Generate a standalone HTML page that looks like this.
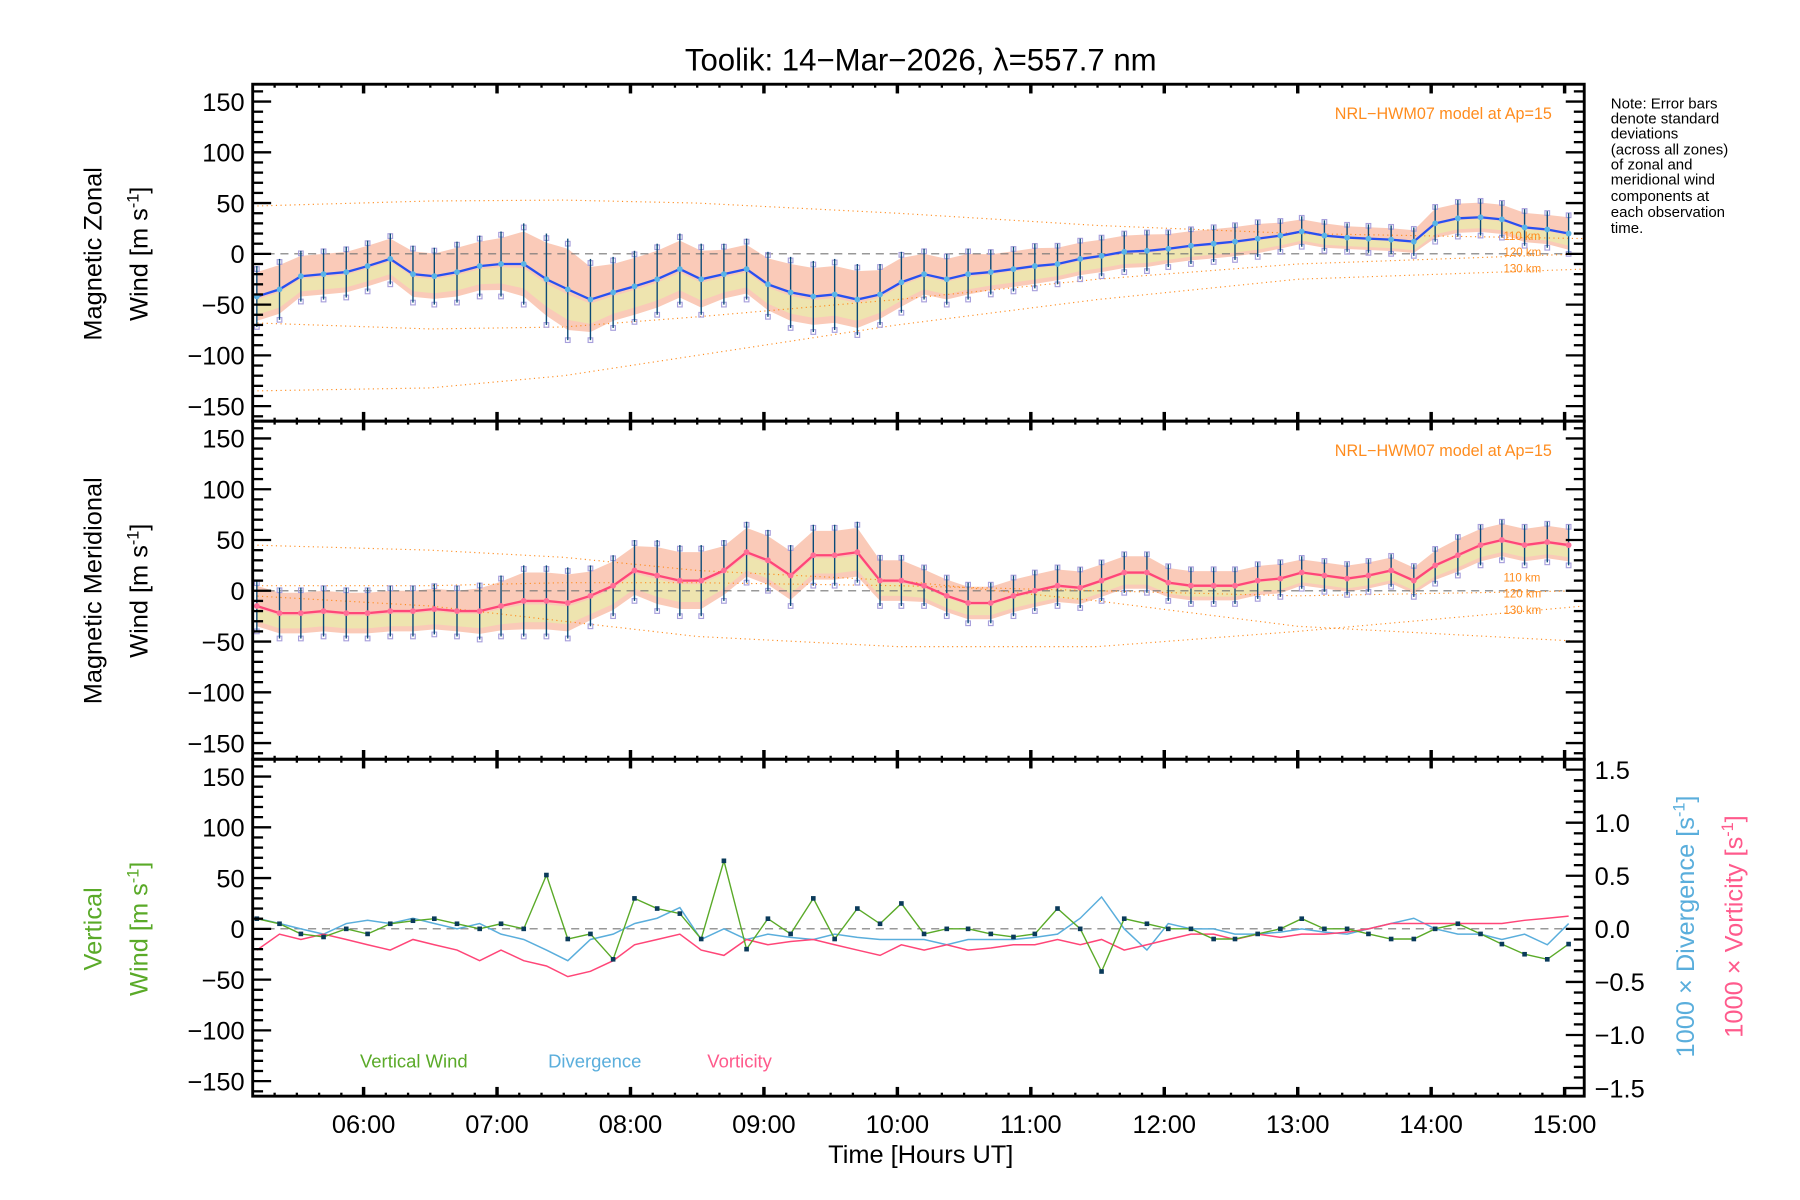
<!DOCTYPE html>
<html><head><meta charset="utf-8"><style>
html,body{margin:0;padding:0;background:#fff;}
svg{display:block;font-family:"Liberation Sans","DejaVu Sans",sans-serif;}
</style></head><body>
<svg id="chart" xmlns="http://www.w3.org/2000/svg" width="1800" height="1200" viewBox="0 0 1560 1040">
<rect width="1560" height="1040" fill="#fff"/>
<text x="798" y="61" font-size="27" text-anchor="middle">Toolik: 14−Mar−2026, λ=557.7 nm</text>
<g id="layer"></g>
<g font-size="13" fill="#000">
<text x="1396" y="94">Note: Error bars</text>
<text x="1396" y="107">denote standard</text>
<text x="1396" y="120">deviations</text>
<text x="1396" y="134">(across all zones)</text>
<text x="1396" y="147">of zonal and</text>
<text x="1396" y="160">meridional wind</text>
<text x="1396" y="174">components at</text>
<text x="1396" y="188">each observation</text>
<text x="1396" y="202">time.</text>
</g>
<text x="798" y="1008" font-size="22" text-anchor="middle">Time [Hours UT]</text>
<g font-size="22" text-anchor="middle">
<text transform="translate(88,220) rotate(-90)">Magnetic Zonal</text>
<text transform="translate(128,220) rotate(-90)">Wind [m s<tspan dy="-8" font-size="14">-1</tspan><tspan dy="8">]</tspan></text>
</g>
<g font-size="22" text-anchor="middle">
<text transform="translate(88,512) rotate(-90)">Magnetic Meridional</text>
<text transform="translate(128,512) rotate(-90)">Wind [m s<tspan dy="-8" font-size="14">-1</tspan><tspan dy="8">]</tspan></text>
</g>
<g font-size="22" text-anchor="middle" fill="#5aaa28">
<text transform="translate(88,805) rotate(-90)">Vertical</text>
<text transform="translate(128,805) rotate(-90)">Wind [m s<tspan dy="-8" font-size="14">-1</tspan><tspan dy="8">]</tspan></text>
</g>
<text transform="translate(1468,803) rotate(-90)" font-size="22" text-anchor="middle" fill="#5aaedc">1000 × Divergence [s<tspan dy="-8" font-size="14">-1</tspan><tspan dy="8">]</tspan></text>
<text transform="translate(1510,803) rotate(-90)" font-size="22" text-anchor="middle" fill="#ff5a8c">1000 × Vorticity [s<tspan dy="-8" font-size="14">-1</tspan><tspan dy="8">]</tspan></text>
<text x="312" y="925" font-size="16" fill="#5aaa28">Vertical Wind</text>
<text x="475" y="925" font-size="16" fill="#5aaedc">Divergence</text>
<text x="613" y="925" font-size="16" fill="#ff5a8c">Vorticity</text>
<text x="1345" y="103" font-size="14" fill="#ff8c1e" text-anchor="end">NRL−HWM07 model at Ap=15</text>
<text x="1345" y="395" font-size="14" fill="#ff8c1e" text-anchor="end">NRL−HWM07 model at Ap=15</text>
</svg>
<script>
const times=[5.2,5.37,5.53,5.7,5.87,6.03,6.2,6.37,6.53,6.7,6.87,7.03,7.2,7.37,7.53,7.7,7.87,8.03,8.2,8.37,8.53,8.7,8.87,9.03,9.2,9.37,9.53,9.7,9.87,10.03,10.2,10.37,10.53,10.7,10.87,11.03,11.2,11.37,11.53,11.7,11.87,12.03,12.2,12.37,12.53,12.7,12.87,13.03,13.2,13.37,13.53,13.7,13.87,14.03,14.2,14.37,14.53,14.7,14.87,15.03];
const zonal=[-42,-35,-22,-20,-18,-12,-5,-20,-22,-18,-12,-10,-10,-25,-35,-45,-38,-32,-25,-15,-25,-20,-15,-30,-38,-42,-40,-45,-40,-28,-20,-25,-20,-18,-15,-12,-10,-5,-2,2,3,5,8,10,12,15,18,22,18,16,15,14,12,30,35,36,34,26,24,20];
const zonalSigma=[30,30,25,25,25,25,25,28,28,30,30,32,40,45,50,40,35,35,35,35,35,30,30,32,35,35,35,35,30,30,25,25,25,22,22,22,20,20,20,20,20,18,18,18,18,18,16,15,15,14,14,14,14,18,18,18,18,18,18,20];
const meridional=[-15,-22,-22,-20,-22,-22,-20,-20,-18,-20,-20,-15,-10,-10,-12,-5,5,20,15,10,10,20,38,30,15,35,35,38,10,10,5,-5,-12,-12,-5,0,5,3,10,18,18,8,5,5,5,10,12,18,15,12,15,20,10,25,35,45,50,45,48,45];
const meridSigma=[25,25,25,25,25,25,25,25,25,25,28,30,35,35,35,30,30,30,35,35,35,30,30,30,30,30,30,30,25,25,20,20,20,20,20,20,20,20,20,20,20,18,18,18,18,18,18,16,16,16,16,16,16,18,20,20,20,20,20,20];
const vertical=[10,5,-5,-8,0,-5,5,8,10,5,0,5,0,53,-10,-5,-30,30,20,15,-10,67,-20,10,-5,30,-10,20,5,25,-5,0,0,-5,-8,-5,20,0,-42,10,5,0,0,-10,-10,-5,0,10,0,0,-5,-10,-10,0,5,-5,-15,-25,-30,-15];
const divergence=[0.10,0.05,0,-0.05,0.05,0.08,0.05,0.10,0.05,0,0.05,-0.05,-0.10,-0.20,-0.30,-0.10,-0.05,0.05,0.10,0.20,-0.10,0,-0.10,-0.05,-0.08,-0.10,-0.05,-0.08,-0.10,-0.10,-0.10,-0.15,-0.10,-0.10,-0.10,-0.08,-0.05,0.10,0.30,0,-0.20,0.05,0,0,-0.05,-0.05,-0.03,0,-0.03,-0.05,0,0.05,0.10,0,-0.05,-0.05,-0.10,-0.05,-0.15,0.05];
const vorticity=[-0.20,-0.05,-0.10,-0.05,-0.10,-0.15,-0.20,-0.10,-0.15,-0.20,-0.30,-0.20,-0.30,-0.35,-0.45,-0.40,-0.30,-0.15,-0.10,-0.05,-0.20,-0.25,-0.10,-0.15,-0.12,-0.10,-0.15,-0.20,-0.25,-0.15,-0.20,-0.15,-0.20,-0.18,-0.15,-0.15,-0.10,-0.15,-0.10,-0.20,-0.15,-0.10,-0.05,-0.05,-0.10,-0.05,-0.08,-0.05,-0.05,-0.03,0,0.05,0.05,0.05,0.05,0.05,0.05,0.08,0.10,0.12];
const modelTimes=[5.17,6.5,7.5,8.5,10,11.5,13,15.15];
const zonalModel110=[47,52,53,50,40,28,20,15];
const zonalModel120=[-68,-74,-72,-62,-45,-25,-10,0];
const zonalModel130=[-135,-132,-120,-100,-70,-45,-25,-15];
const meridModel110=[45,40,33,20,10,-10,-35,-50];
const meridModel120=[5,5,8,8,5,0,-5,0];
const meridModel130=[-5,-15,-30,-45,-55,-55,-40,-15];
const hourTicks=[6,7,8,9,10,11,12,13,14,15];
const hourLabels=["06:00","07:00","08:00","09:00","10:00","11:00","12:00","13:00","14:00","15:00"];
const yTicks=[150,100,50,0,-50,-100,-150];
const yTickLabels=["150","100","50","0","−50","−100","−150"];
const rTicks=[1.5,1.0,0.5,0,-0.5,-1.0,-1.5];
const rTickLabels=["1.5","1.0","0.5","0.0","−0.5","−1.0","−1.5"];

const NS="http://www.w3.org/2000/svg";
const layer=document.getElementById('layer');
const X0=219,X1=1373,T0=5.169,T1=15.147;
const x=t=>X0+(t-T0)/(T1-T0)*(X1-X0);
const panels=[{top:73,bot:365,zero:220},{top:365,bot:658,zero:512},{top:658,bot:950,zero:805}];
const yf=p=>v=>p.zero-v*0.88;
const yR=v=>805-v*92;
function el(tag,attrs,parent){const e=document.createElementNS(NS,tag);for(const k in attrs)e.setAttribute(k,attrs[k]);(parent||layer).appendChild(e);return e;}
function pts(ts,vs,yfun){return ts.map((t,i)=>x(Math.min(Math.max(t,T0),T1)).toFixed(1)+','+yfun(vs[i]).toFixed(1)).join(' ');}

function drawWindPanel(p,mean,sig,models,lineColor,name){
  const y=yf(p);
  const g=el('g',{});
  
  
  const up=times.map((t,i)=>x(t)+','+y(mean[i]+sig[i]*0.8)).join(' ');
  const lo=times.map((t,i)=>x(t)+','+y(mean[i]-sig[i]*0.8)).reverse().join(' ');
  const sh=el('polygon',{points:up+' '+lo,fill:'#f8b49a','fill-opacity':0.7},g);
  
  
  const up2=times.map((t,i)=>x(t)+','+y(mean[i]-sig[i]*0.1)).join(' ');
  const lo2=times.map((t,i)=>x(t)+','+y(mean[i]-sig[i]*0.6)).reverse().join(' ');
  const sh2=el('polygon',{points:up2+' '+lo2,fill:'#e6f5a8','fill-opacity':0.6},g);
  
  
  const zl=el('line',{x1:X0,x2:X1,y1:y(0),y2:y(0),stroke:'#777','stroke-dasharray':'7,5','stroke-width':1},g);
  
  
  const km=['110 km','120 km','130 km'];
  models.forEach((m,k)=>{
    const l=el('polyline',{points:pts(modelTimes,m,y),fill:'none',stroke:'#ff8c1e','stroke-width':1,'stroke-dasharray':'1,3'},g);
    
    
  });
  [-8,6,20].forEach((dy,k)=>{
    const tx=el('text',{x:1303,y:p.zero+dy-(name==='zonal'?4:0),'font-size':10,fill:'#ff8c1e'},g);
    tx.textContent=km[k];
    
    
  });
  times.forEach((t,i)=>{
    [-1.0,0.9].forEach(f=>{
      const s=el('rect',{x:x(t)-2,y:y(mean[i]+sig[i]*f)-2,width:4,height:4,fill:'none',stroke:'#a8a0dc','stroke-width':1},g);
      
      
    });
  });
  times.forEach((t,i)=>{
    const b=el('line',{x1:x(t),x2:x(t),y1:y(mean[i]+sig[i]),y2:y(mean[i]-sig[i]),stroke:'#0a4a78','stroke-width':1.2},g);
    
    
  });
  const ml=el('polyline',{points:pts(times,mean,y),fill:'none',stroke:lineColor,'stroke-width':2},g);
  
  
  times.forEach((t,i)=>{
    const c=el('circle',{cx:x(t),cy:y(mean[i]),r:2.5,fill:name==='zonal'?'#5ab4e6':'#ff6e96'},g);
    
    
  });
}
drawWindPanel(panels[0],zonal,zonalSigma,[zonalModel110,zonalModel120,zonalModel130],'#2850f0','zonal');
drawWindPanel(panels[1],meridional,meridSigma,[meridModel110,meridModel120,meridModel130],'#ff4678','meridional');

(function(){
  const p=panels[2],y=yf(p);
  const zl=el('line',{x1:X0,x2:X1,y1:y(0),y2:y(0),stroke:'#777','stroke-dasharray':'7,5','stroke-width':1});
  
  
  const dv=el('polyline',{points:pts(times,divergence,yR),fill:'none',stroke:'#5aaedc','stroke-width':1.3});
  
  
  const vo=el('polyline',{points:pts(times,vorticity,yR),fill:'none',stroke:'#ff4678','stroke-width':1.3});
  
  
  const vw=el('polyline',{points:pts(times,vertical,y),fill:'none',stroke:'#5aaa28','stroke-width':1.2});
  
  
  times.forEach((t,i)=>{
    const c=el('rect',{x:x(t)-2,y:y(vertical[i])-2,width:4,height:4,fill:'#0a3a5a'});
    
    
  });
})();

panels.forEach((p,pi)=>{
  const y=yf(p);
  const ax=el('rect',{x:X0,y:p.top,width:X1-X0,height:p.bot-p.top,fill:'none',stroke:'#000','stroke-width':2.5});
  
  
  for(let v=-160;v<=160;v+=10){
    const major=v%50===0; const len=major?16:9;
    el('line',{x1:X0,x2:X0+len,y1:y(v),y2:y(v),stroke:'#000','stroke-width':2});
    if(pi<2) el('line',{x1:X1,x2:X1-len,y1:y(v),y2:y(v),stroke:'#000','stroke-width':2});
  }
  yTicks.forEach((v,i)=>{
    const t=el('text',{x:212,y:y(v)+8,'font-size':22,'text-anchor':'end'});
    t.textContent=yTickLabels[i];
    
    
  });
  hourTicks.forEach(h=>{
    el('line',{x1:x(h),x2:x(h),y1:p.top,y2:p.top+8,stroke:'#000','stroke-width':3});
    el('line',{x1:x(h),x2:x(h),y1:p.bot,y2:p.bot-8,stroke:'#000','stroke-width':3});
  });
  for(let m=5+2/6;m<15.14;m+=1/6){
    el('line',{x1:x(m),x2:x(m),y1:p.top,y2:p.top+3,stroke:'#000','stroke-width':2});
    el('line',{x1:x(m),x2:x(m),y1:p.bot,y2:p.bot-3,stroke:'#000','stroke-width':2});
  }
});
for(let v=-1.5;v<=1.51;v+=0.1){
  const major=Math.abs(Math.round(v*10))%5===0;
  el('line',{x1:X1,x2:X1-(major?16:9),y1:yR(v),y2:yR(v),stroke:'#000','stroke-width':2});
}
rTicks.forEach((v,i)=>{
  const t=el('text',{x:1382,y:yR(v)+8,'font-size':22});
  t.textContent=rTickLabels[i];
  
  
});
hourTicks.forEach((h,i)=>{
  const t=el('text',{x:x(h),y:982,'font-size':22,'text-anchor':'middle'});
  t.textContent=hourLabels[i];
  
  
});
</script>
</body></html>
